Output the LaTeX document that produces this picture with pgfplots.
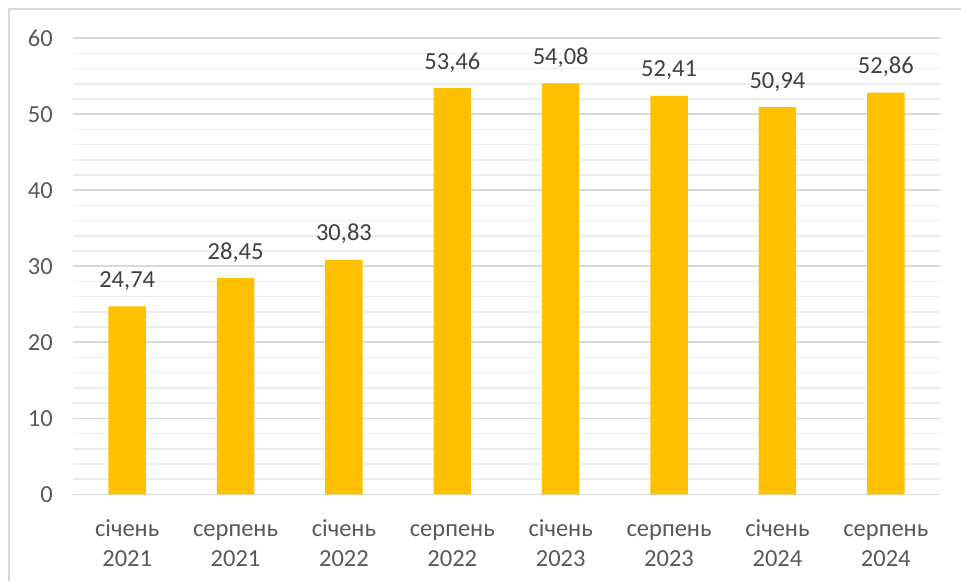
\documentclass[border=0pt]{standalone}
\usepackage{fontspec}
\setmainfont{Carlito}
\usepackage{pgfplots}
\pgfplotsset{compat=1.18}
\definecolor{barcol}{HTML}{FFC000}
\definecolor{framegray}{HTML}{D9D9D9}
\definecolor{majorgrid}{HTML}{D9D9D9}
\definecolor{minorgrid}{HTML}{EDEDED}
\definecolor{ticktext}{HTML}{595959}
\definecolor{valtext}{HTML}{404040}
\newcommand{\lbl}[2]{\strut #1\\\strut #2}
\begin{document}
\begin{tikzpicture}[x=1pt,y=1pt]
\useasboundingbox (0,0) rectangle (961,581);
% chart frame
\draw[framegray, line width=2pt] (9,0) -- (9,572) -- (961,572);
\begin{axis}[
  at={(73pt,86.7pt)}, anchor=south west,
  scale only axis, width=867pt, height=456pt,
  xmin=-0.5, xmax=7.5, ymin=0, ymax=60,
  ytick={0,10,...,60}, minor ytick={2,4,...,58},
  ymajorgrids, yminorgrids,
  major grid style={majorgrid, line width=1.6pt},
  minor grid style={minorgrid, line width=1.6pt},
  axis line style={draw=none},
  tick style={draw=none},
  xtick={0,...,7},
  xticklabels={{\lbl{січень}{2021}},{\lbl{серпень}{2021}},{\lbl{січень}{2022}},{\lbl{серпень}{2022}},{\lbl{січень}{2023}},{\lbl{серпень}{2023}},{\lbl{січень}{2024}},{\lbl{серпень}{2024}}},
  xticklabel style={align=center, anchor=north, inner sep=0pt, font=\fontsize{24.5}{30}\selectfont, text=ticktext},
  yticklabel style={font=\fontsize{24.5}{28}\selectfont, text=ticktext, anchor=east, inner sep=0pt},
  yticklabel shift=20pt,
  xticklabel shift=17pt,
  /pgf/number format/assume math mode=true,
  ybar, bar width=37.4pt,
  nodes near coords,
  nodes near coords style={font=\fontsize{24.5}{28}\selectfont, text=valtext, anchor=base, inner sep=0pt, yshift=19pt,
    /pgf/number format/fixed, /pgf/number format/fixed zerofill,
    /pgf/number format/precision=2, /pgf/number format/use comma},
  clip=false,
]
\addplot[fill=barcol, draw=none] coordinates {
  (0,24.74) (1,28.45) (2,30.83) (3,53.46) (4,54.08) (5,52.41) (6,50.94) (7,52.86)
};
\end{axis}
\end{tikzpicture}
\end{document}
